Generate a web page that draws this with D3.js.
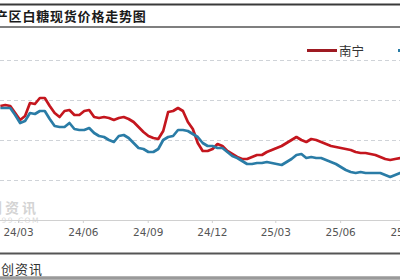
<!DOCTYPE html>
<html>
<head>
<meta charset="utf-8">
<script src="https://cdn.jsdelivr.net/npm/d3@7/dist/d3.min.js"></script>
<style>
  html, body { margin: 0; padding: 0; background: #fff; }
  svg { display: block; }
</style>
</head>
<body>
<div id="chart"></div>
<script>
// weekly price samples (yuan/ton)
var dates = [
  "2024-02-05", "2024-02-12", "2024-02-19", "2024-02-26", "2024-03-04", "2024-03-11", "2024-03-18", "2024-03-25",
  "2024-04-01", "2024-04-08", "2024-04-15", "2024-04-22", "2024-04-29", "2024-05-06", "2024-05-13", "2024-05-20",
  "2024-05-27", "2024-06-03", "2024-06-10", "2024-06-17", "2024-06-24", "2024-07-01", "2024-07-08", "2024-07-15",
  "2024-07-22", "2024-07-29", "2024-08-05", "2024-08-12", "2024-08-19", "2024-08-26", "2024-09-02", "2024-09-09",
  "2024-09-16", "2024-09-23", "2024-09-30", "2024-10-07", "2024-10-14", "2024-10-21", "2024-10-28", "2024-11-04",
  "2024-11-11", "2024-11-18", "2024-11-25", "2024-12-02", "2024-12-09", "2024-12-16", "2024-12-23", "2024-12-30",
  "2025-01-06", "2025-01-13", "2025-01-20", "2025-01-27", "2025-02-03", "2025-02-10", "2025-02-17", "2025-02-24",
  "2025-03-03", "2025-03-10", "2025-03-17", "2025-03-24", "2025-03-31", "2025-04-07", "2025-04-14", "2025-04-21",
  "2025-04-28", "2025-05-05", "2025-05-12", "2025-05-19", "2025-05-26", "2025-06-02", "2025-06-09", "2025-06-16",
  "2025-06-23", "2025-06-30", "2025-07-07", "2025-07-14", "2025-07-21", "2025-07-28", "2025-08-04", "2025-08-11",
  "2025-08-18", "2025-08-25", "2025-09-01"
];

var nanning = [
  6740, 6750, 6740, 6670, 6600, 6640, 6770, 6760, 6820, 6820,
  6740, 6670, 6630, 6690, 6700, 6650, 6650, 6690, 6700, 6630,
  6620, 6630, 6620, 6600, 6620, 6630, 6610, 6580, 6530, 6480,
  6440, 6420, 6410, 6490, 6680, 6690, 6720, 6690, 6580, 6510,
  6370, 6290, 6290, 6310, 6360, 6340, 6290, 6260, 6230, 6210,
  6210, 6230, 6250, 6250, 6280, 6300, 6320, 6340, 6370, 6400,
  6430, 6400, 6380, 6410, 6400, 6380, 6360, 6340, 6330, 6320,
  6310, 6300, 6280, 6270, 6270, 6260, 6250, 6230, 6210, 6200,
  6210, 6220, 6220
];

var kunming = [
  6720, 6720, 6720, 6650, 6570, 6590, 6670, 6660, 6690, 6690,
  6610, 6540, 6530, 6530, 6570, 6510, 6500, 6500, 6520, 6470,
  6440, 6430, 6400, 6380, 6440, 6450, 6420, 6370, 6320, 6310,
  6280, 6280, 6310, 6400, 6430, 6440, 6500, 6500, 6490, 6460,
  6430, 6370, 6340, 6340, 6320, 6320, 6280, 6240, 6220, 6190,
  6160, 6160, 6170, 6170, 6180, 6170, 6160, 6150, 6180, 6210,
  6250, 6260, 6220, 6230, 6220, 6220, 6200, 6180, 6160, 6130,
  6100, 6080, 6070, 6080, 6070, 6070, 6070, 6070, 6050, 6030,
  6050, 6070, 6070
];

var seriesNames = ["南宁", "昆明"];
var seriesColors = ["#c4161e", "#2a7ca6"];

var tickDates = ["2024-03-01", "2024-06-01", "2024-09-01", "2024-12-01", "2025-03-01", "2025-06-01", "2025-09-01"];
var tickLabels = ["24/03", "24/06", "24/09", "24/12", "25/03", "25/06", "25/09"];
var yGrid = [6000, 6400, 6800, 7200];

var width = 400, height = 280;
var parseDate = d3.timeParse("%Y-%m-%d");

var svg = d3.select("#chart")
    .append("svg")
    .attr("width", width)
    .attr("height", height);

// frame lines
svg.append("line").attr("x1", 0).attr("x2", width).attr("y1", 4.5).attr("y2", 4.5)
    .attr("stroke", "#3a3a3a").attr("stroke-width", 2);
svg.append("line").attr("x1", 0).attr("x2", width).attr("y1", 27).attr("y2", 27)
    .attr("stroke", "#555").attr("stroke-width", 1.5);
svg.append("line").attr("x1", 0).attr("x2", width).attr("y1", 253.5).attr("y2", 253.5)
    .attr("stroke", "#555").attr("stroke-width", 2);
svg.append("line").attr("x1", 0).attr("x2", width).attr("y1", 278).attr("y2", 278)
    .attr("stroke", "#9a9a9a").attr("stroke-width", 3.5);

// title (left part cropped, as in the source image)
svg.append("text")
    .attr("x", -19)
    .attr("y", 21)
    .style("font-family", "'Noto Sans CJK SC', sans-serif")
    .style("font-size", "13px")
    .style("font-weight", "bold")
    .style("letter-spacing", "0.8px")
    .attr("fill", "#1a1a1a")
    .text("主产区白糖现货价格走势图");

// scales
var x = d3.scaleTime()
    .domain([parseDate("2024-03-01"), parseDate("2025-09-01")])
    .range([18, 405]);

var y = d3.scaleLinear()
    .domain([5600, 7200])
    .range([220, 60]);

// grid
svg.append("g")
    .selectAll("line")
    .data(yGrid)
    .enter()
    .append("line")
    .attr("x1", 0)
    .attr("x2", width)
    .attr("y1", function(d) { return Math.round(y(d)) + 0.5; })
    .attr("y2", function(d) { return Math.round(y(d)) + 0.5; })
    .attr("stroke", "#cfd3d8")
    .attr("stroke-dasharray", "4,3");

// watermark
svg.append("text")
    .attr("x", 39).attr("y", 213)
    .attr("text-anchor", "end")
    .style("font-family", "'Noto Sans CJK SC', sans-serif")
    .style("font-size", "14px")
    .style("font-weight", "bold")
    .style("letter-spacing", "3px")
    .attr("fill", "#d4d4d4")
    .text("卓创资讯");
svg.append("text")
    .attr("x", 40).attr("y", 223)
    .attr("text-anchor", "end")
    .style("font-family", "'DejaVu Sans', sans-serif")
    .style("font-size", "7.5px")
    .style("letter-spacing", "1.5px")
    .attr("fill", "#d8d8d8")
    .text("SCI99.COM");

// x axis
var xAxis = d3.axisBottom(x)
    .tickValues(tickDates.map(parseDate))
    .tickSize(3)
    .tickFormat(function(d, i) { return tickLabels[i]; });

var axisG = svg.append("g")
    .attr("transform", "translate(0,220)")
    .call(xAxis);
axisG.select(".domain").remove();
axisG.insert("line", ":first-child")
    .attr("x1", 0).attr("x2", width).attr("y1", 0.5).attr("y2", 0.5)
    .attr("stroke", "#d0d0d0");
axisG.selectAll(".tick line").attr("stroke", "#d0d0d0");
axisG.selectAll(".tick text")
    .attr("y", 9)
    .style("font-family", "'DejaVu Sans', sans-serif")
    .style("font-size", "10.5px")
    .attr("fill", "#555");

// lines
var data = [nanning, kunming];
var line = d3.line()
    .x(function(d, i) { return x(parseDate(dates[i])); })
    .y(function(d) { return y(d); });

svg.append("g")
    .selectAll("path")
    .data(data)
    .enter()
    .append("path")
    .attr("d", line)
    .attr("fill", "none")
    .attr("stroke", function(d, i) { return seriesColors[i]; })
    .attr("stroke-width", 2.7)
    .attr("stroke-linejoin", "round");

// legend
var legend = svg.append("g")
    .selectAll("g")
    .data(seriesNames)
    .enter()
    .append("g")
    .attr("transform", function(d, i) { return "translate(" + (307 + i * 91) + ",50.5)"; });
legend.append("line")
    .attr("x1", 0).attr("x2", 30)
    .attr("stroke", function(d, i) { return i === 0 ? "#9e1a22" : seriesColors[i]; })
    .attr("stroke-width", 3);
legend.append("text")
    .attr("x", 32)
    .attr("y", 5)
    .style("font-family", "'Noto Sans CJK SC', sans-serif")
    .style("font-size", "12.5px")
    .attr("fill", "#333")
    .text(function(d) { return d; });

// source
svg.append("text")
    .attr("x", 43).attr("y", 274)
    .attr("text-anchor", "end")
    .style("font-family", "'Noto Sans CJK SC', sans-serif")
    .style("font-size", "13px")
    .style("letter-spacing", "1px")
    .attr("fill", "#333")
    .text("数据来源：卓创资讯");
</script>
</body>
</html>
